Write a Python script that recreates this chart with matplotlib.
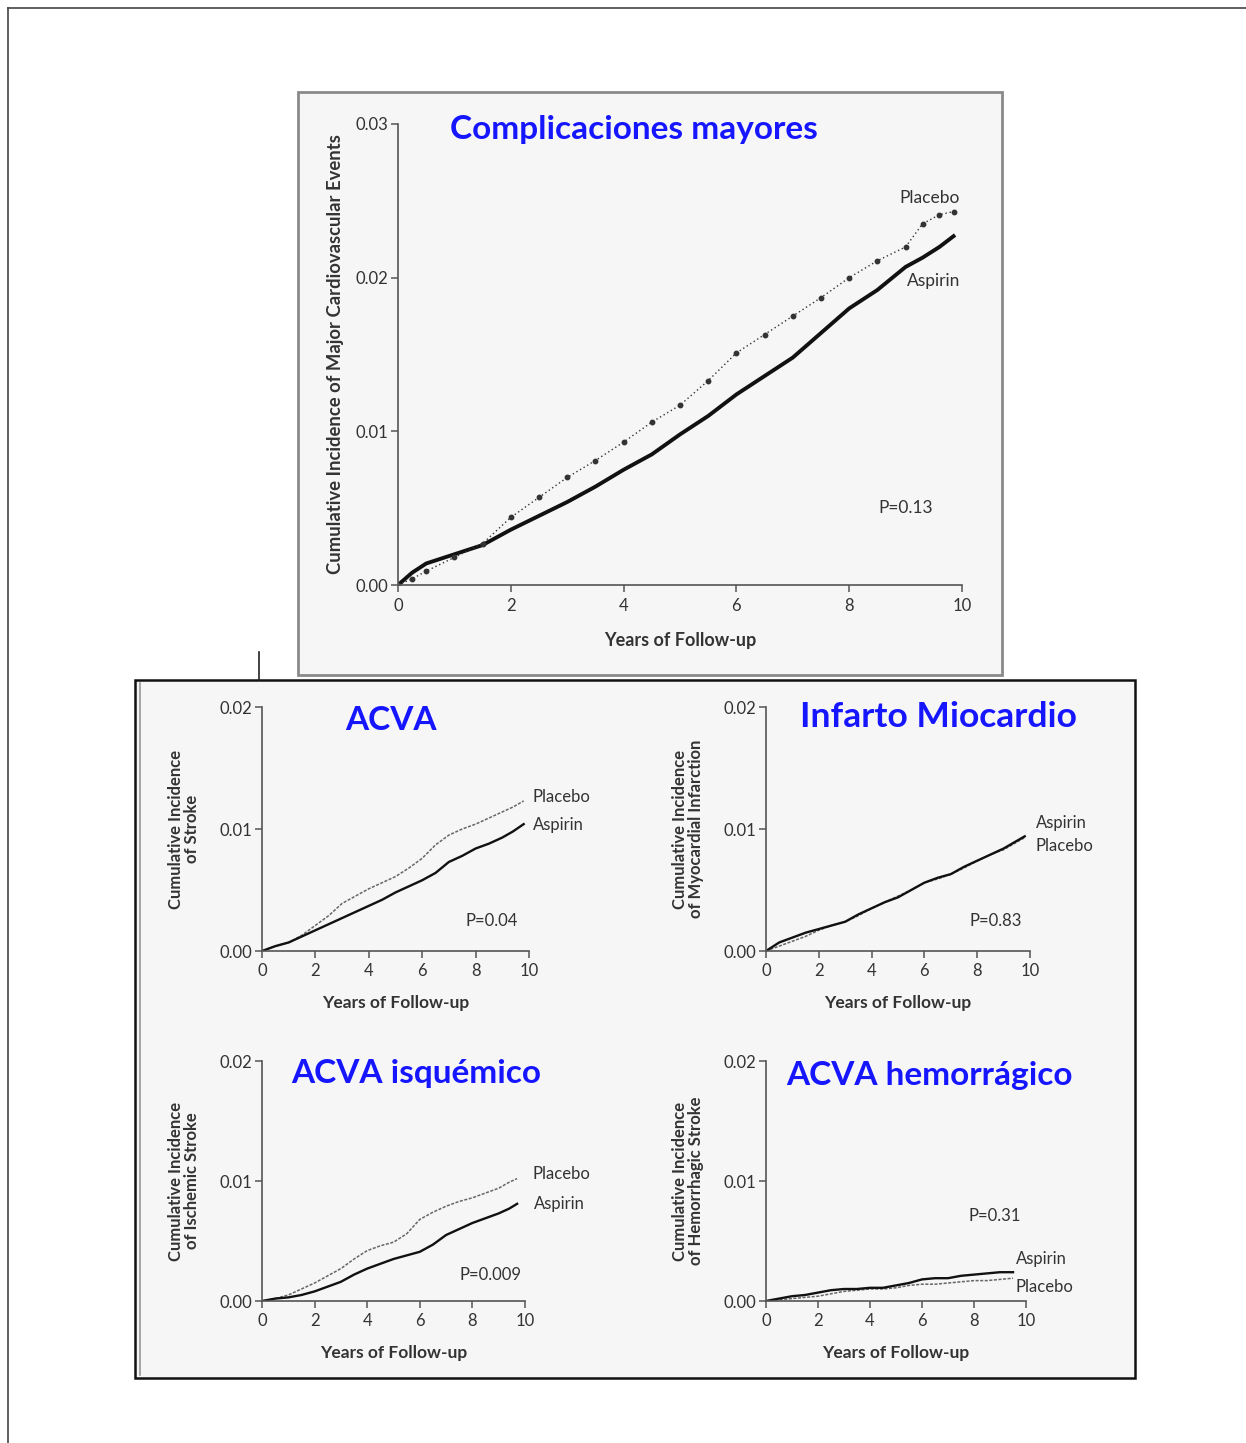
import matplotlib
matplotlib.use('Agg')
import matplotlib.pyplot as plt
from matplotlib.patches import Rectangle
from matplotlib.lines import Line2D

W, H = 1246, 1443

# ---- data ----
# Complicaciones mayores (major cardiovascular events)
mce_years = [0, 0.25, 0.5, 1, 1.5, 2, 2.5, 3, 3.5, 4, 4.5, 5, 5.5, 6, 6.5, 7, 7.5, 8, 8.5, 9, 9.3, 9.6, 9.85]
mce_aspirin = [0, 0.0008, 0.0014, 0.0020, 0.0026, 0.0036, 0.0045, 0.0054, 0.0064, 0.0075, 0.0085, 0.0098, 0.0110, 0.0124,
               0.0136, 0.0148, 0.0164, 0.0180, 0.0192, 0.0207, 0.0213, 0.0220, 0.0227]
mce_placebo = [0, 0.0004, 0.0009, 0.0018, 0.0027, 0.0044, 0.0057, 0.0070, 0.0081, 0.0093, 0.0106, 0.0117, 0.0133, 0.0151,
               0.0163, 0.0175, 0.0187, 0.0200, 0.0211, 0.0220, 0.0235, 0.0241, 0.0243]

sub_years = [0, 0.5, 1, 1.5, 2, 2.5, 3, 3.5, 4, 4.5, 5, 5.5, 6, 6.5, 7, 7.5, 8, 8.5, 9, 9.4, 9.8]
stroke_aspirin = [0, 0.0004, 0.0007, 0.0012, 0.0017, 0.0022, 0.0027, 0.0032, 0.0037, 0.0042, 0.0048, 0.0053, 0.0058,
                  0.0064, 0.0073, 0.0078, 0.0084, 0.0088, 0.0093, 0.0098, 0.0104]
stroke_placebo = [0, 0.0004, 0.0007, 0.0013, 0.0021, 0.0029, 0.0039, 0.0045, 0.0051, 0.0056, 0.0061, 0.0068, 0.0076,
                  0.0087, 0.0095, 0.0100, 0.0104, 0.0109, 0.0114, 0.0118, 0.0123]
mi_aspirin = [0, 0.0007, 0.0011, 0.0015, 0.0018, 0.0021, 0.0024, 0.0030, 0.0035, 0.0040, 0.0044, 0.0050, 0.0056,
              0.0060, 0.0063, 0.0069, 0.0074, 0.0079, 0.0084, 0.0089, 0.0094]
mi_placebo = [0, 0.0004, 0.0008, 0.0012, 0.0017, 0.0021, 0.0024, 0.0029, 0.0035, 0.0040, 0.0045, 0.0050, 0.0056,
              0.0059, 0.0063, 0.0068, 0.0074, 0.0079, 0.0083, 0.0088, 0.0093]

isch_years = [0, 0.5, 1, 1.5, 2, 2.5, 3, 3.5, 4, 4.5, 5, 5.5, 6, 6.5, 7, 7.5, 8, 8.5, 9, 9.4, 9.7]
isch_aspirin = [0, 0.0002, 0.0003, 0.0005, 0.0008, 0.0012, 0.0016, 0.0022, 0.0027, 0.0031, 0.0035, 0.0038, 0.0041,
                0.0047, 0.0055, 0.0060, 0.0065, 0.0069, 0.0073, 0.0077, 0.0081]
isch_placebo = [0, 0.0002, 0.0005, 0.0010, 0.0015, 0.0021, 0.0027, 0.0035, 0.0042, 0.0046, 0.0049, 0.0056, 0.0068,
                0.0074, 0.0079, 0.0083, 0.0086, 0.0090, 0.0094, 0.0099, 0.0102]

hem_years = [0, 0.5, 1, 1.5, 2, 2.5, 3, 3.5, 4, 4.5, 5, 5.5, 6, 6.5, 7, 7.5, 8, 8.5, 9, 9.5]
hem_aspirin = [0, 0.0002, 0.0004, 0.0005, 0.0007, 0.0009, 0.0010, 0.0010, 0.0011, 0.0011, 0.0013, 0.0015, 0.0018,
               0.0019, 0.0019, 0.0021, 0.0022, 0.0023, 0.0024, 0.0024]
hem_placebo = [0, 0.0001, 0.0002, 0.0003, 0.0004, 0.0006, 0.0008, 0.0009, 0.0010, 0.0010, 0.0011, 0.0013, 0.0014,
               0.0014, 0.0015, 0.0016, 0.0017, 0.0017, 0.0018, 0.0019]

x_ticks = [0, 2, 4, 6, 8, 10]
TEXT = '#333333'
AX = '#555555'
BLUE = '#1515ff'
BG = '#f6f6f6'

plt.rcParams['font.family'] = ['Lato', 'DejaVu Sans']

fig = plt.figure(figsize=(W / 100, H / 100), dpi=100)
fig.patch.set_facecolor('white')


def fx(x):
    return x / W


def fy(y):
    return 1 - y / H


def box(l, t, r, b, ec, lw, fc=BG):
    fig.patches.append(Rectangle((fx(l), fy(b)), fx(r - l), (b - t) / H, transform=fig.transFigure,
                                 facecolor=fc, edgecolor=ec, linewidth=lw, zorder=-10))


def line(xs, ys, color='#444444', lw=1.2):
    fig.lines.append(Line2D([fx(v) for v in xs], [fy(v) for v in ys], transform=fig.transFigure,
                            color=color, linewidth=lw, zorder=-5))


# page frame and boxes
line([8, 8], [8, 1443])
line([8, 1246], [8, 8])
box(298, 92, 1002, 675, '#8a8a8a', 2)
box(135, 680, 1135, 1378, '#111111', 1.8)
line([140, 140], [683, 1375], color='#999999', lw=1.2)
line([259, 259], [652, 680], color='#222222', lw=1.2)


def make_axes(l, t, r, b, ymax, yticks, xl_size, xl_pad):
    ax = fig.add_axes([fx(l), fy(b), fx(r - l), (b - t) / H])
    ax.set_zorder(2)
    ax.patch.set_alpha(0)
    ax.set_xlim(0, 10)
    ax.set_ylim(0, ymax)
    for s in ['top', 'right']:
        ax.spines[s].set_visible(False)
    for s in ['left', 'bottom']:
        ax.spines[s].set_color(AX)
        ax.spines[s].set_linewidth(1.2)
    ax.set_xticks(x_ticks)
    ax.set_yticks(yticks)
    ax.set_yticklabels([f'{v:.2f}' for v in yticks])
    ax.tick_params(colors=AX, labelcolor=TEXT, labelsize=12, length=5, width=1.1, pad=2)
    ax.tick_params(axis='x', pad=4)
    ax.set_xlabel('Years of Follow-up', fontsize=xl_size, fontweight='bold', color=TEXT, labelpad=xl_pad)
    return ax


# ---- top panel ----
ax = make_axes(398, 124, 962, 585, 0.03, [0.0, 0.01, 0.02, 0.03], 13, 13)
ax.plot(mce_years, mce_aspirin, color='#111111', lw=2.8)
ax.plot(mce_years, mce_placebo, color='#333333', lw=1.0, ls=(0, (1, 2)),
        marker='o', markersize=3.2, markevery=1)
ax.set_ylabel('Cumulative Incidence of Major Cardiovascular Events', fontsize=13.3,
              fontweight='bold', color=TEXT, labelpad=8)
ax.text(9.43, 0.0252, 'Placebo', fontsize=12.5, color=TEXT, ha='center', va='center', clip_on=False)
ax.text(9.5, 0.0198, 'Aspirin', fontsize=12.5, color=TEXT, ha='center', va='center', clip_on=False)
ax.text(9.0, 0.0050, 'P=0.13', fontsize=12.5, color=TEXT, ha='center', va='center')
fig.text(fx(634), fy(130), 'Complicaciones mayores', fontsize=24, fontweight='bold', color=BLUE,
         ha='center', va='center')

# ---- four small panels ----
panels = [
    # (l, t, r, b), years, aspirin, placebo, ylabel, title, title pos, size, label pos, p text
    ((262, 707, 529, 951), sub_years, stroke_aspirin, stroke_placebo,
     'Cumulative Incidence\nof Stroke', 'ACVA', (391, 721), 24,
     [('Placebo', 11.2, 0.0126), ('Aspirin', 11.1, 0.0103)], ('P=0.04', 8.6, 0.0025)),
    ((766, 707, 1030, 951), sub_years, mi_aspirin, mi_placebo,
     'Cumulative Incidence\nof Myocardial Infarction', 'Infarto Miocardio', (938, 717), 25.5,
     [('Aspirin', 11.2, 0.0105), ('Placebo', 11.3, 0.0086)], ('P=0.83', 8.7, 0.0025)),
    ((262, 1061, 525, 1301), isch_years, isch_aspirin, isch_placebo,
     'Cumulative Incidence\nof Ischemic Stroke', 'ACVA isquémico', (416, 1073), 24,
     [('Placebo', 11.4, 0.0106), ('Aspirin', 11.3, 0.0081)], ('P=0.009', 8.7, 0.0022)),
    ((766, 1061, 1026, 1301), hem_years, hem_aspirin, hem_placebo,
     'Cumulative Incidence\nof Hemorrhagic Stroke', 'ACVA hemorrágico', (929, 1075), 24,
     [('Aspirin', 10.6, 0.0035), ('Placebo', 10.7, 0.0012)], ('P=0.31', 8.8, 0.0071)),
]

for (l, t, r, b), yrs, asp, pla, ylab, title, (tx, ty), tsize, labels, ptxt in panels:
    ax = make_axes(l, t, r, b, 0.02, [0.0, 0.01, 0.02], 12.5, 11)
    ax.plot(yrs, pla, color='#666666', lw=1.1, ls=(0, (2, 1)))
    ax.plot(yrs, asp, color='#111111', lw=1.7)
    ax.set_ylabel(ylab, fontsize=12, fontweight='bold', color=TEXT, labelpad=14, linespacing=1.0)
    for txt, x, y in labels:
        ax.text(x, y, txt, fontsize=12, color=TEXT, ha='center', va='center', clip_on=False)
    ax.text(ptxt[1], ptxt[2], ptxt[0], fontsize=12, color=TEXT, ha='center', va='center')
    fig.text(fx(tx), fy(ty), title, fontsize=tsize, fontweight='bold', color=BLUE, ha='center', va='center')

plt.savefig('out.png', dpi=100)
